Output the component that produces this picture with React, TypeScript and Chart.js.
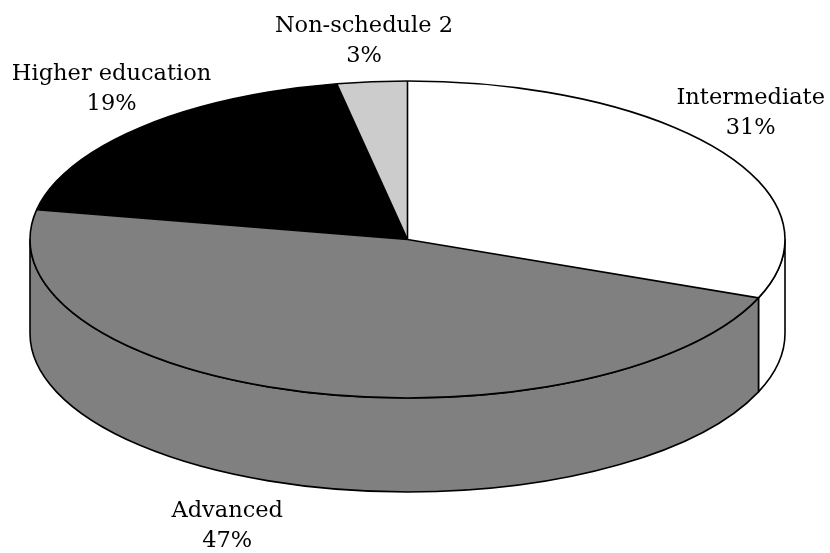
import React, { useEffect, useRef } from "react";
import { Chart, registerables } from "chart.js";

Chart.register(...registerables);

// Education level shares
const categories = ["Intermediate", "Advanced", "Higher education", "Non-schedule 2"];
const shares = [31, 47, 19, 3];
const sliceColors = ["#ffffff", "#808080", "#000000", "#cccccc"];

// Label offsets (px) from each slice's outer anchor point to the first text baseline
const labelOffsets: [number, number][] = [
  [31, -46],
  [-75, 31],
  [-29, -47],
  [-8, -50],
];

// Tilted-disc geometry: top ellipse centre, radii and rim depth
const DISC = { cx: 407.5, cy: 239.5, rx: 377.5, ry: 158.5, depth: 94 };
const FONT = '22.5px "DejaVu Serif"';
const LINE_GAP = 30;
const EDGE_WIDTH = 1.6;

const tiltedPie = {
  id: "tiltedPie",
  beforeDatasetsDraw(chart: any) {
    const ctx: CanvasRenderingContext2D = chart.ctx;
    const arcs = chart.getDatasetMeta(0).data;
    const { cx, cy, rx, ry, depth } = DISC;

    // Rim walls for the front half of the disc
    ctx.save();
    ctx.lineWidth = EDGE_WIDTH;
    ctx.strokeStyle = "#000";
    ctx.lineJoin = "round";
    arcs.forEach((arc: any) => {
      const { startAngle, endAngle } = arc.getProps(["startAngle", "endAngle"], true);
      const a = Math.max(startAngle, 0);
      const b = Math.min(endAngle, Math.PI);
      if (b <= a) return;
      ctx.beginPath();
      ctx.ellipse(cx, cy, rx, ry, 0, a, b);
      ctx.lineTo(cx + rx * Math.cos(b), cy + depth + ry * Math.sin(b));
      ctx.ellipse(cx, cy + depth, rx, ry, 0, b, a, true);
      ctx.closePath();
      ctx.fillStyle = arc.options.backgroundColor;
      ctx.fill();
      ctx.stroke();
    });
    ctx.restore();

    // Squash the library's circular pie onto the top ellipse
    const first = arcs[0];
    ctx.save();
    ctx.translate(cx, cy);
    ctx.scale(rx / first.outerRadius, ry / first.outerRadius);
    ctx.translate(-first.x, -first.y);
  },
  afterDatasetsDraw(chart: any) {
    const ctx: CanvasRenderingContext2D = chart.ctx;
    ctx.restore();
    const arcs = chart.getDatasetMeta(0).data;
    const { cx, cy, rx, ry, depth } = DISC;

    ctx.save();
    ctx.lineWidth = EDGE_WIDTH;
    ctx.strokeStyle = "#000";
    // top outline
    ctx.beginPath();
    ctx.ellipse(cx, cy, rx, ry, 0, 0, Math.PI * 2);
    ctx.stroke();
    // slice boundaries
    arcs.forEach((arc: any) => {
      const { startAngle } = arc.getProps(["startAngle"], true);
      ctx.beginPath();
      ctx.moveTo(cx, cy);
      ctx.lineTo(cx + rx * Math.cos(startAngle), cy + ry * Math.sin(startAngle));
      ctx.stroke();
    });

    // labels
    ctx.font = FONT;
    ctx.fillStyle = "#000";
    ctx.textAlign = "center";
    ctx.textBaseline = "alphabetic";
    arcs.forEach((arc: any, i: number) => {
      const { startAngle, endAngle } = arc.getProps(["startAngle", "endAngle"], true);
      const mid = (startAngle + endAngle) / 2;
      const s = Math.sin(mid);
      const ax = cx + rx * Math.cos(mid);
      const ay = cy + ry * s + (s > 0 ? depth : 0);
      const bx = ax + labelOffsets[i][0];
      const by = ay + labelOffsets[i][1];
      ctx.fillText(categories[i], bx, by);
      ctx.fillText(`${shares[i]}%`, bx, by + LINE_GAP);
    });
    ctx.restore();
  },
};

export default function App() {
  const ref = useRef<HTMLCanvasElement>(null);

  useEffect(() => {
    if (!ref.current) return;
    const chart = new Chart(ref.current, {
      type: "pie",
      data: {
        labels: categories,
        datasets: [
          {
            data: shares,
            backgroundColor: sliceColors,
            borderWidth: 0,
            clip: false as any,
          },
        ],
      },
      options: {
        animation: false,
        responsive: false,
        devicePixelRatio: 1,
        events: [],
        layout: { padding: 0 },
        plugins: {
          legend: { display: false },
          tooltip: { enabled: false },
        },
      },
      plugins: [tiltedPie],
    });
    return () => chart.destroy();
  }, []);

  return (
    <div style={{ position: "fixed", left: 0, top: 0, width: 830, height: 553, background: "#fff" }}>
      <canvas ref={ref} width={830} height={553} style={{ display: "block" }} />
    </div>
  );
}
